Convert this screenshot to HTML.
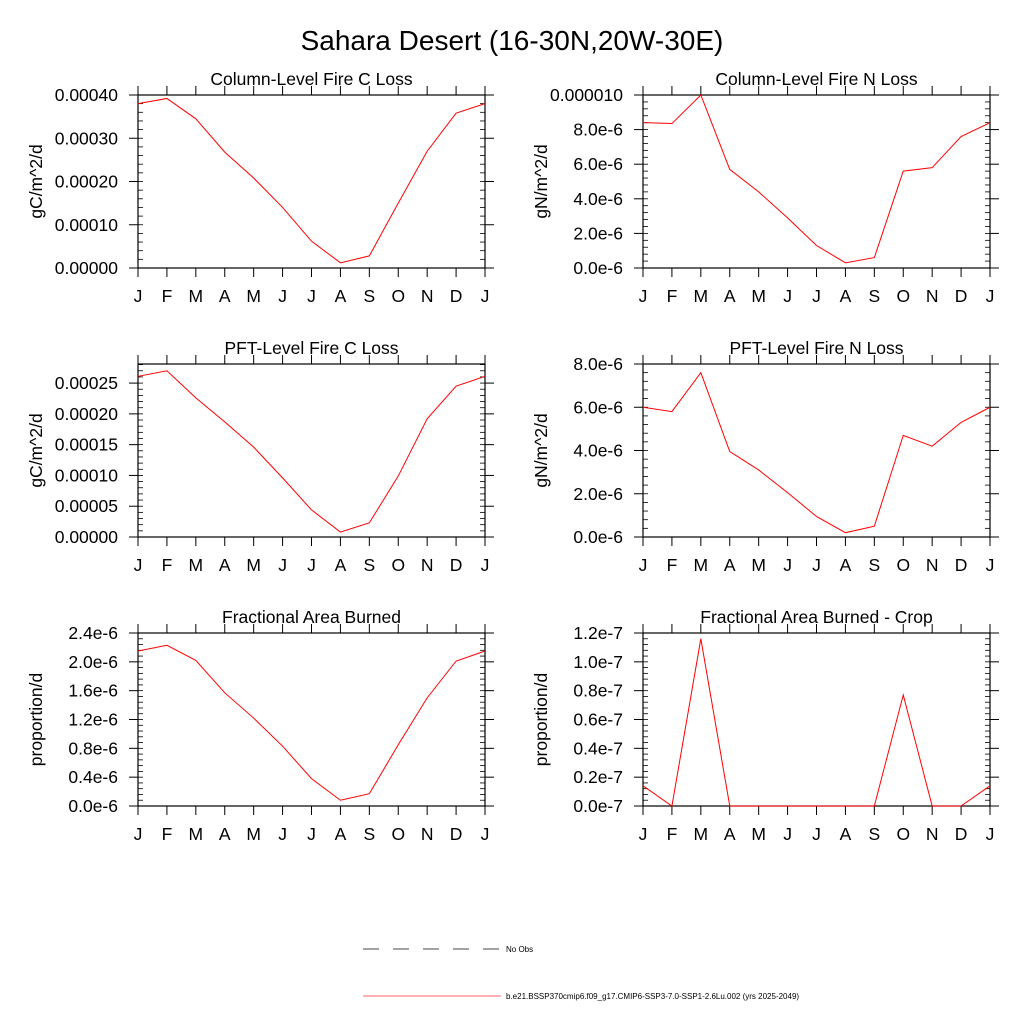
<!DOCTYPE html>
<html><head><meta charset="utf-8"><style>
body{margin:0;background:#fff;}
svg{display:block;font-family:"Liberation Sans",sans-serif;}
</style></head><body>
<svg id="c" width="1024" height="1024" xmlns="http://www.w3.org/2000/svg">
<text x="512" y="50" font-size="28" text-anchor="middle">Sahara Desert (16-30N,20W-30E)</text>
<g>
<line x1="363" y1="949" x2="500" y2="949" stroke="#444" stroke-width="1" stroke-dasharray="16,14"/>
<text x="506" y="952" font-size="8">No Obs</text>
<line x1="363" y1="996" x2="501" y2="996" stroke="#f66" stroke-width="1"/>
<text x="506" y="999" font-size="8">b.e21.BSSP370cmip6.f09_g17.CMIP6-SSP3-7.0-SSP1-2.6Lu.002 (yrs 2025-2049)</text>
</g>
</svg>
<script>
const months = ["J","F","M","A","M","J","J","A","S","O","N","D","J"];
const colCLoss = [0.000380,0.000392,0.000345,0.000268,0.000208,0.000140,0.000062,0.000012,0.000028,0.000150,0.000270,0.000358,0.000380];
const colNLoss = [8.4e-6,8.35e-6,1.0e-5,5.7e-6,4.4e-6,2.9e-6,1.3e-6,0.3e-6,0.6e-6,5.6e-6,5.8e-6,7.6e-6,8.4e-6];
const pftCLoss = [0.000261,0.000270,0.000226,0.000187,0.000146,0.000096,0.000044,0.000008,0.000023,0.000099,0.000192,0.000245,0.000261];
const pftNLoss = [6.0e-6,5.8e-6,7.6e-6,3.95e-6,3.1e-6,2.05e-6,0.95e-6,0.2e-6,0.5e-6,4.7e-6,4.2e-6,5.3e-6,6.0e-6];
const fracBurn = [2.15e-6,2.23e-6,2.02e-6,1.57e-6,1.22e-6,0.83e-6,0.38e-6,0.08e-6,0.17e-6,0.85e-6,1.5e-6,2.01e-6,2.15e-6];
const fracBurnCrop = [0.14e-7,0,1.16e-7,0,0,0,0,0,0,0.77e-7,0,0,0.14e-7];
const ticks1 = ["0.00000","0.00010","0.00020","0.00030","0.00040"];
const ticks2 = ["0.0e-6","2.0e-6","4.0e-6","6.0e-6","8.0e-6","0.000010"];
const ticks3 = ["0.00000","0.00005","0.00010","0.00015","0.00020","0.00025"];
const ticks4 = ["0.0e-6","2.0e-6","4.0e-6","6.0e-6","8.0e-6"];
const ticks5 = ["0.0e-6","0.4e-6","0.8e-6","1.2e-6","1.6e-6","2.0e-6","2.4e-6"];
const ticks6 = ["0.0e-7","0.2e-7","0.4e-7","0.6e-7","0.8e-7","1.0e-7","1.2e-7"];
const NS="http://www.w3.org/2000/svg";
const svg=document.getElementById('c');
function mk(tag,attrs,parent){const e=document.createElementNS(NS,tag);for(const k in attrs)e.setAttribute(k,attrs[k]);(parent||svg).appendChild(e);return e;}
const panels=[
 {t:"Column-Level Fire C Loss",yl:"gC/m^2/d",d:colCLoss,tk:ticks1,step:0.0001,ymax:0.0004,x:138,y:95,nm:"col-c-loss"},
 {t:"Column-Level Fire N Loss",yl:"gN/m^2/d",d:colNLoss,tk:ticks2,step:2e-6,ymax:1e-5,x:643,y:95,nm:"col-n-loss"},
 {t:"PFT-Level Fire C Loss",yl:"gC/m^2/d",d:pftCLoss,tk:ticks3,step:0.00005,ymax:0.000281,x:138,y:364,nm:"pft-c-loss"},
 {t:"PFT-Level Fire N Loss",yl:"gN/m^2/d",d:pftNLoss,tk:ticks4,step:2e-6,ymax:8e-6,x:643,y:364,nm:"pft-n-loss"},
 {t:"Fractional Area Burned",yl:"proportion/d",d:fracBurn,tk:ticks5,step:0.4e-6,ymax:2.4e-6,x:138,y:633,nm:"frac-area-burned"},
 {t:"Fractional Area Burned - Crop",yl:"proportion/d",d:fracBurnCrop,tk:ticks6,step:0.2e-7,ymax:1.2e-7,x:643,y:633,nm:"frac-area-burned-crop"}
];
const W=347,H=173,FS=17.5;
panels.forEach(p=>{
 const g=mk('g',{});
 
 
 const xs=i=>p.x+i*W/(months.length-1);
 const ys=v=>p.y+H-v/p.ymax*H;
 const tt=mk('text',{x:p.x+W/2,y:p.y-10,'font-size':FS,'text-anchor':'middle'},g);tt.textContent=p.t;
 
 
 const yt=mk('text',{x:0,y:0,'font-size':FS,'text-anchor':'middle',transform:`translate(${p.x-96},${p.y+H/2}) rotate(-90)`},g);yt.textContent=p.yl;
 
 
 const fr=mk('rect',{x:p.x,y:p.y,width:W,height:H,fill:'none',stroke:'#000','stroke-width':1.2},g);
 
 
 months.forEach((m,i)=>{
  const x=xs(i);
  mk('line',{x1:x,y1:p.y+H,x2:x,y2:p.y+H+9,stroke:'#000'},g);
  mk('line',{x1:x,y1:p.y,x2:x,y2:p.y-9,stroke:'#000'},g);
  const l=mk('text',{x:x,y:p.y+H+34,'font-size':FS,'text-anchor':'middle'},g);l.textContent=m;
  
  
 });
 p.tk.forEach((s,i)=>{
  const v=i*p.step,y=ys(v);
  mk('line',{x1:p.x-9,y1:y,x2:p.x,y2:y,stroke:'#000'},g);
  mk('line',{x1:p.x+W,y1:y,x2:p.x+W+9,y2:y,stroke:'#000'},g);
  const l=mk('text',{x:p.x-20,y:y+6,'font-size':FS,'text-anchor':'end'},g);l.textContent=s;
  
  
 });
 for(let v=0;v<=p.ymax+1e-20;v+=p.step/5){
  const y=ys(v);
  mk('line',{x1:p.x,y1:y,x2:p.x+5,y2:y,stroke:'#000','stroke-width':0.8},g);
  mk('line',{x1:p.x+W-5,y1:y,x2:p.x+W,y2:y,stroke:'#000','stroke-width':0.8},g);
 }
 const pts=p.d.map((v,i)=>xs(i)+','+ys(v)).join(' ');
 const ln=mk('polyline',{points:pts,fill:'none',stroke:'#f00','stroke-width':1},g);
 
 
});
</script>
</body></html>
